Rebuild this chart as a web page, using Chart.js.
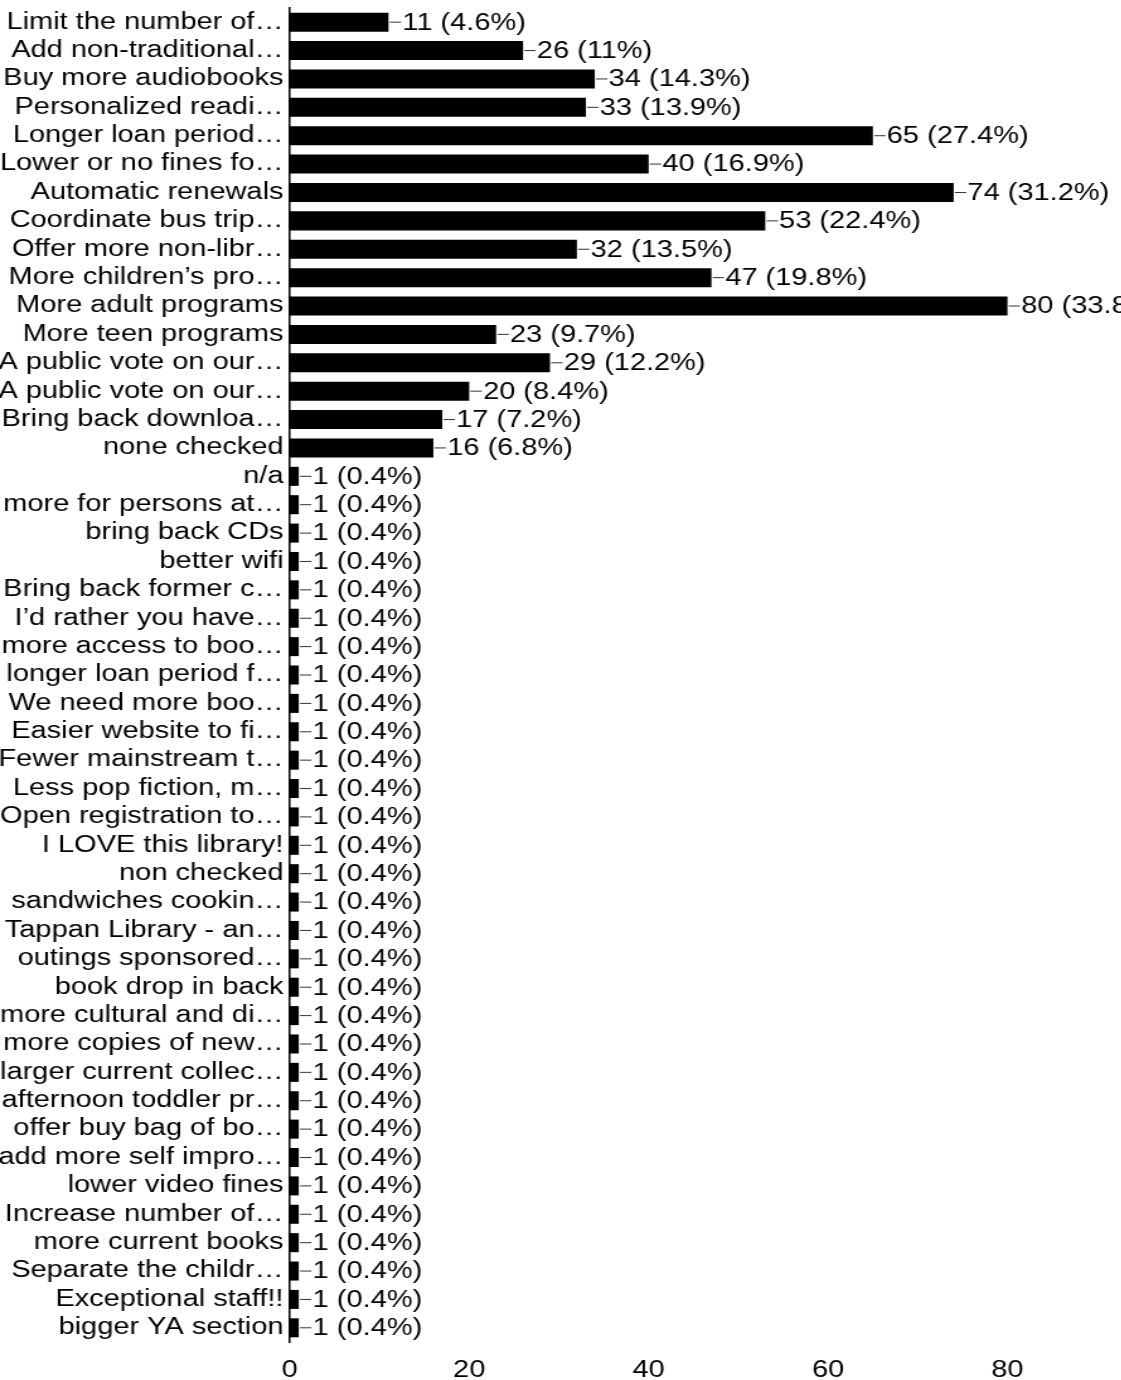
<!DOCTYPE html>
<html lang="en">
<head>
<meta charset="UTF-8">
<title>Library suggestions</title>
<script src="https://cdn.jsdelivr.net/npm/chart.js"></script>
<style>
  html, body { margin: 0; padding: 0; background: #fff; overflow: hidden; }
  /* the chart is drawn narrow and widened, so the lettering comes out broad */
  #wrap { width: 890px; height: 1380px; transform: scaleX(1.26); transform-origin: 0 0; }
</style>
</head>
<body>
<div id="wrap"><canvas id="chartCanvas" width="890" height="1380"></canvas></div>
<script>
const answers = [
  'Limit the number of…', 'Add non-traditional…', 'Buy more audiobooks', 'Personalized readi…',
  'Longer loan period…', 'Lower or no fines fo…', 'Automatic renewals', 'Coordinate bus trip…',
  'Offer more non-libr…', 'More children\u2019s pro…', 'More adult programs', 'More teen programs',
  'A public vote on our…', 'A public vote on our…', 'Bring back downloa…', 'none checked',
  'n/a', 'more for persons at…', 'bring back CDs', 'better wifi',
  'Bring back former c…', 'I\u2019d rather you have…', 'more access to boo…', 'longer loan period f…',
  'We need more boo…', 'Easier website to fi…', 'Fewer mainstream t…', 'Less pop fiction, m…',
  'Open registration to…', 'I LOVE this library!', 'non checked', 'sandwiches cookin…',
  'Tappan Library - an…', 'outings sponsored…', 'book drop in back', 'more cultural and di…',
  'more copies of new…', 'larger current collec…', 'afternoon toddler pr…', 'offer buy bag of bo…',
  'add more self impro…', 'lower video fines', 'Increase number of…', 'more current books',
  'Separate the childr…', 'Exceptional staff!!', 'bigger YA section'
];
const counts = [
  11, 26, 34, 33, 65, 40, 74, 53, 32, 47, 80, 23, 29, 20, 17, 16,
  1, 1, 1, 1, 1, 1, 1, 1, 1, 1, 1, 1, 1, 1, 1, 1,
  1, 1, 1, 1, 1, 1, 1, 1, 1, 1, 1, 1, 1, 1, 1
];
const respondents = 237;
const xTicks = [0, 20, 40, 60, 80];

const fontFamily = '"Liberation Sans", Arial, sans-serif';

// short leader line after each bar, then "count (percent%)"
const valueLabels = {
  id: 'valueLabels',
  afterDatasetsDraw(chart) {
    const ctx = chart.ctx;
    const meta = chart.getDatasetMeta(0);
    ctx.save();
    ctx.font = `23px ${fontFamily}`;
    ctx.textBaseline = 'middle';
    ctx.fillStyle = '#000';
    ctx.strokeStyle = '#333';
    ctx.lineWidth = 1;
    meta.data.forEach((bar, i) => {
      const v = counts[i];
      const pct = Math.round(v / respondents * 1000) / 10;
      ctx.beginPath();
      ctx.moveTo(bar.x + 1, bar.y);
      ctx.lineTo(bar.x + 10, bar.y);
      ctx.stroke();
      ctx.fillText(`${v} (${pct}%)`, bar.x + 11, bar.y + 1);
    });
    ctx.restore();
  }
};

const ctx = document.getElementById('chartCanvas').getContext('2d');
window.myChart = new Chart(ctx, {
  type: 'bar',
  data: {
    labels: answers,
    datasets: [{
      data: counts,
      backgroundColor: '#000',
      borderWidth: 0,
      barPercentage: 0.67,
      categoryPercentage: 1
    }]
  },
  options: {
    indexAxis: 'y',
    responsive: false,
    animation: false,
    layout: { padding: { top: 8, right: 0, bottom: 0, left: 0 } },
    plugins: {
      legend: { display: false },
      tooltip: { enabled: false }
    },
    scales: {
      x: {
        min: 0,
        max: 92.7,
        grid: { display: false, drawTicks: false },
        border: { display: false },
        ticks: { color: '#000', font: { family: fontFamily, size: 23 }, padding: 15 },
        afterBuildTicks(scale) { scale.ticks = xTicks.map(v => ({ value: v })); },
        afterFit(scale) { scale.height = 38; }
      },
      y: {
        grid: { display: false, drawTicks: false },
        border: { display: true, color: '#000', width: 1.5 },
        ticks: { color: '#000', font: { family: fontFamily, size: 23 }, padding: 5, autoSkip: false },
        afterFit(scale) {
          scale.width = 230;
          scale.paddingTop = 0;
          scale.paddingBottom = 0;
        }
      }
    }
  },
  plugins: [valueLabels]
});
</script>
</body>
</html>
